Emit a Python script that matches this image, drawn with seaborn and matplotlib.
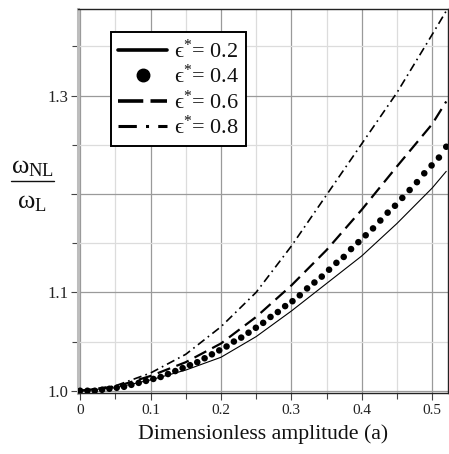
import numpy as np
import pandas as pd
import matplotlib
matplotlib.use("Agg")
import matplotlib.pyplot as plt
from matplotlib.lines import Line2D
from matplotlib.ticker import MultipleLocator, FixedLocator, FixedFormatter
import seaborn as sns

# ---- data ----
amp = [0.0, 0.05, 0.10, 0.15, 0.20, 0.25, 0.30, 0.35, 0.40, 0.45, 0.50, 0.52]
ratio_e02 = [1.000, 1.003, 1.011, 1.021, 1.034, 1.055, 1.081, 1.109, 1.137, 1.170, 1.206, 1.223]
ratio_e06 = [1.000, 1.004, 1.015, 1.029, 1.048, 1.075, 1.107, 1.143, 1.184, 1.228, 1.271, 1.294]
ratio_e08 = [1.000, 1.005, 1.018, 1.037, 1.065, 1.100, 1.147, 1.199, 1.251, 1.303, 1.362, 1.386]

amp_dots = [0.0, 0.0104, 0.0208, 0.0312, 0.0416, 0.052, 0.0624, 0.0728, 0.0832, 0.0936,
            0.104, 0.1144, 0.1248, 0.1352, 0.1456, 0.156, 0.1664, 0.1768, 0.1872, 0.1976,
            0.208, 0.2184, 0.2288, 0.2392, 0.2496, 0.26, 0.2704, 0.2808, 0.2912, 0.3016,
            0.312, 0.3224, 0.3328, 0.3432, 0.3536, 0.364, 0.3744, 0.3848, 0.3952, 0.4056,
            0.416, 0.4264, 0.4368, 0.4472, 0.4576, 0.468, 0.4784, 0.4888, 0.4992, 0.5096, 0.52]
ratio_e04 = [1.000, 1.000, 1.000, 1.001, 1.002, 1.003, 1.004, 1.006, 1.008, 1.010,
             1.012, 1.014, 1.017, 1.020, 1.023, 1.026, 1.029, 1.033, 1.037, 1.041,
             1.045, 1.050, 1.054, 1.059, 1.064, 1.069, 1.075, 1.080, 1.086, 1.091,
             1.097, 1.104, 1.110, 1.116, 1.123, 1.130, 1.136, 1.144, 1.151, 1.158,
             1.165, 1.173, 1.181, 1.188, 1.196, 1.204, 1.212, 1.221, 1.229, 1.237, 1.248]

labels = ['\u03f5$^{*}$= 0.2', '\u03f5$^{*}$= 0.4', '\u03f5$^{*}$= 0.6', '\u03f5$^{*}$= 0.8']
x_ticks = [0.0, 0.1, 0.2, 0.3, 0.4, 0.5]
x_ticklabels = ['0', '0.1', '0.2', '0.3', '0.4', '0.5']
y_ticks = [1.0, 1.1, 1.2, 1.3]
y_ticklabels = ['1.0', '1.1', '', '1.3']

# ---- style ----
sns.set_theme(style="whitegrid")
plt.rcParams['font.family'] = ['Liberation Serif', 'DejaVu Serif']
plt.rcParams['mathtext.fontset'] = 'custom'
plt.rcParams['mathtext.rm'] = 'Liberation Serif'
plt.rcParams['mathtext.it'] = 'Liberation Serif'
plt.rcParams['mathtext.bf'] = 'Liberation Serif:bold'

W, H = 449, 454
fig = plt.figure(figsize=(W / 100, H / 100), dpi=100)
fig.patch.set_facecolor('white')
ax = fig.add_axes([78 / W, (H - 393) / H, 370 / W, 384 / H])
ax.set_facecolor('white')

sns.lineplot(x=amp, y=ratio_e02, ax=ax, color='black', linewidth=0.8, label=labels[0])
sns.scatterplot(x=amp_dots, y=ratio_e04, ax=ax, color='black', s=22, edgecolor='none',
                label=labels[1], zorder=3)
sns.lineplot(x=amp, y=ratio_e06, ax=ax, color='black', linewidth=1.6,
             linestyle=(0, (6, 3)), label=labels[2])
sns.lineplot(x=amp, y=ratio_e08, ax=ax, color='black', linewidth=1.2,
             linestyle=(0, (5, 2.5, 1, 2.5)), label=labels[3])

ax.set_xlim(-0.003, 0.5225)
ax.set_ylim(0.9977, 1.388)

ax.xaxis.set_major_locator(FixedLocator(x_ticks))
ax.xaxis.set_major_formatter(FixedFormatter(x_ticklabels))
ax.xaxis.set_minor_locator(MultipleLocator(0.05))
ax.yaxis.set_major_locator(FixedLocator(y_ticks))
ax.yaxis.set_major_formatter(FixedFormatter(y_ticklabels))
ax.yaxis.set_minor_locator(MultipleLocator(0.05))

ax.grid(True, which='major', color='#9a9a9a', linewidth=0.9)
ax.grid(True, which='minor', color='#dcdcdc', linewidth=0.9)
ax.set_axisbelow(True)

ax.tick_params(axis='both', which='both', direction='out', color='#444444', width=0.8,
               bottom=True, left=True)
ax.tick_params(axis='both', which='major', length=5)
ax.tick_params(axis='both', which='minor', length=4)
ax.tick_params(axis='x', labelsize=11, pad=3, labelcolor='#222222')
ax.tick_params(axis='y', labelsize=12, pad=2, labelcolor='#222222')

for side in ['top', 'right', 'bottom']:
    ax.spines[side].set_color('#222222')
    ax.spines[side].set_linewidth(1.0)
ax.spines['left'].set_color('#bdbdbd')
ax.spines['left'].set_linewidth(2.2)

ax.set_xlabel('Dimensionless amplitude (a)', fontsize=15.7, color='#111111', labelpad=5)
ax.set_ylabel('')

# y label as a fraction
fig.text(11 / W, 1 - 168 / H, r'$\omega_{\rm NL}$', fontsize=19, ha='left', va='center',
         color='#111111')
fig.add_artist(Line2D([11 / W, 54 / W], [1 - 181 / H, 1 - 181 / H], color='#111111',
                      linewidth=1.0))
fig.text(17 / W, 1 - 203 / H, r'$\omega_{\rm L}$', fontsize=19, ha='left', va='center',
         color='#111111')

# legend
handles = [
    Line2D([], [], color='black', linewidth=2.6),
    Line2D([], [], color='black', linestyle='none', marker='o', markersize=9),
    Line2D([], [], color='black', linewidth=2.6, linestyle=(0, (7, 2))),
    Line2D([], [], color='black', linewidth=2.2, linestyle=(0, (6, 3, 1, 3))),
]
leg = ax.legend(handles, labels, loc='upper left', bbox_to_anchor=(111 / W, 1 - 32 / H),
                bbox_transform=fig.transFigure, borderaxespad=0, fontsize=16,
                frameon=True, fancybox=False, edgecolor='black', framealpha=1,
                handlelength=2.2, handletextpad=0.3, labelspacing=0.1, borderpad=0.33)
leg.get_frame().set_linewidth(1.4)
for t in leg.get_texts():
    t.set_color('#111111')

fig.savefig('out.png', dpi=100, facecolor='white')
